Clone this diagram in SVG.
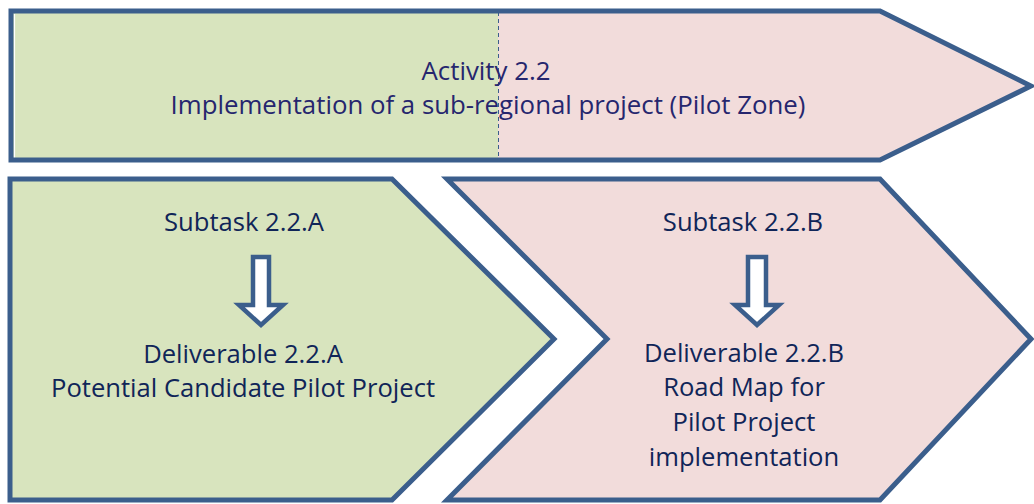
<svg xmlns="http://www.w3.org/2000/svg" width="1034" height="504" viewBox="0 0 1034 504">
<style>
.sh{stroke:#3b5e8c;stroke-width:5;stroke-linejoin:miter}
.g{fill:#d8e4be}
.p{fill:#f2dcdb}
.t1{font-family:"Open Sans","Noto Sans",sans-serif;font-size:25.8px;fill:#26266e;text-anchor:middle}
.t2{font-family:"Open Sans","Noto Sans",sans-serif;font-size:25.6px;fill:#102558;text-anchor:middle}
.arr{fill:#ffffff;stroke:#3b5e8c;stroke-width:4.5}
</style>
<rect width="1034" height="504" fill="#ffffff"/>
<g id="activity">
<rect x="11" y="11" width="487" height="149" class="g"/>
<polygon points="498,11 880,11 1031,86 880,160 498,160" class="p"/>
<line x1="498.5" y1="12" x2="498.5" y2="160" stroke="#3b5e8c" stroke-width="1" stroke-dasharray="4,3"/>
<line x1="14.5" y1="14" x2="14.5" y2="158" stroke="#ffffff" stroke-width="1.2"/>
<polygon points="11,11 880,11 1031,86 880,160 11,160" fill="none" class="sh"/>
<text class="t1" x="486" y="80">Activity 2.2</text>
<text class="t1" x="488" y="114">Implementation of a sub-regional project (Pilot Zone)</text>
</g>
<g id="subtaskA">
<polygon points="10,179 392,179 554,339 392,500 10,500" class="g sh"/>
<text class="t2" x="244" y="231">Subtask 2.2.A</text>
<polygon points="253,257 269,257 269,305 283,305 261,325 239,305 253,305" class="arr"/>
<text class="t2" x="243" y="363">Deliverable 2.2.A</text>
<text class="t2" x="243" y="397">Potential Candidate Pilot Project</text>
</g>
<g id="subtaskB">
<polygon points="447,179 880,179 1031,339 880,500 447,500 607,339" class="p sh"/>
<text class="t2" x="743" y="231">Subtask 2.2.B</text>
<polygon points="748,257 766,257 766,305 779,305 757,325 735,305 748,305" class="arr"/>
<text class="t2" x="744" y="362">Deliverable 2.2.B</text>
<text class="t2" x="744" y="396">Road Map for</text>
<text class="t2" x="744" y="431">Pilot Project</text>
<text class="t2" x="744" y="466">implementation</text>
</g>
<g id="connectors"></g>
</svg>
